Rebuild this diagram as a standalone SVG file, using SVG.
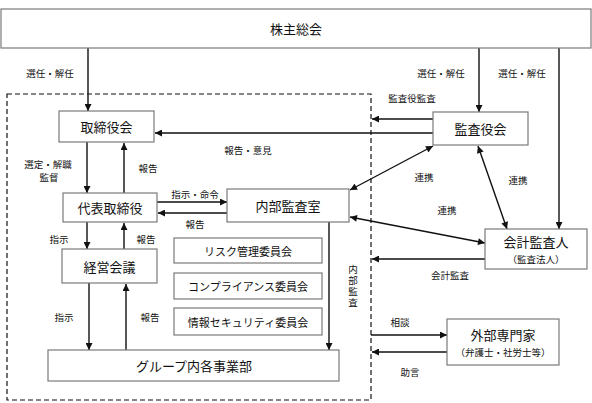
<svg xmlns="http://www.w3.org/2000/svg" width="592" height="403" viewBox="0 0 592 403">
<defs>
<marker id="ah" viewBox="0 0 10 10" refX="10" refY="5" markerWidth="8" markerHeight="7" orient="auto-start-reverse" markerUnits="userSpaceOnUse"><path d="M0,0 L10,5 L0,10 z" fill="#111"/></marker>
<style>
.box{fill:#fff;stroke:#7a7a7a;stroke-width:1.2}
.t{font-family:"Noto Sans CJK JP",sans-serif;fill:#111;text-anchor:middle;dominant-baseline:central}
.big{font-size:13px}
.mid{font-size:11px}
.sm{font-size:9.5px}
.c{fill:none;stroke:#111;stroke-width:1.4;marker-end:url(#ah)}
.d{marker-start:url(#ah)}
</style>
</defs>
<rect width="592" height="403" fill="#fff"/>
<rect x="7" y="94" width="364" height="306" fill="none" stroke="#111" stroke-width="1.2" stroke-dasharray="5,3"/>

<g id="connectors">
<path class="c" d="M88,48 V111"/>
<path class="c" d="M479,48 V112"/>
<path class="c" d="M559,48 V229"/>
<path class="c" d="M433,119 H372"/>
<path class="c" d="M433,133 H155"/>
<path class="c" d="M87,142 V193"/>
<path class="c" d="M124,193 V143"/>
<path class="c" d="M157,202 H227"/>
<path class="c" d="M227,213 H158"/>
<path class="c" d="M87,222 V249"/>
<path class="c" d="M124,249 V223"/>
<path class="c" d="M89,283 V350"/>
<path class="c" d="M126,350 V284"/>
<path class="c" d="M329,222 V350"/>
<path class="c d" d="M433,146 L350,190"/>
<path class="c d" d="M478,146 L507,229"/>
<path class="c d" d="M350,217 L485,243"/>
<path class="c" d="M485,259 H372"/>
<path class="c" d="M371,335 H447"/>
<path class="c" d="M447,352 H372"/>
</g>

<g id="labels">
<text class="t sm" x="50" y="73">選任・解任</text>
<text class="t sm" x="441" y="73">選任・解任</text>
<text class="t sm" x="522" y="73">選任・解任</text>
<text class="t sm" x="412" y="98">監査役監査</text>
<text class="t sm" x="248" y="150">報告・意見</text>
<text class="t sm" x="48" y="164">選定・解職</text>
<text class="t sm" x="49" y="177">監督</text>
<text class="t sm" x="148" y="168">報告</text>
<text class="t sm" x="195" y="194">指示・命令</text>
<text class="t sm" x="195" y="224">報告</text>
<text class="t sm" x="59" y="239">指示</text>
<text class="t sm" x="146" y="239">報告</text>
<text class="t sm" x="64" y="317">指示</text>
<text class="t sm" x="150" y="317">報告</text>
<text class="t sm" x="424" y="177">連携</text>
<text class="t sm" x="518" y="180">連携</text>
<text class="t sm" x="447" y="210">連携</text>
<text class="t sm" x="450" y="275">会計監査</text>
<text class="t sm" x="400" y="322">相談</text>
<text class="t sm" x="410" y="372">助言</text>
<text x="353" y="265" writing-mode="vertical-rl" font-family="Noto Sans CJK JP, sans-serif" font-size="9.5" letter-spacing="1.5" fill="#111">内部監査</text>
</g>

<g id="n-shareholders"><rect class="box" x="1" y="9" width="590" height="39"/><text class="t big" x="296" y="28.5">株主総会</text></g>
<g id="n-board"><rect class="box" x="59" y="111" width="95" height="31"/><text class="t big" x="106.5" y="126.5">取締役会</text></g>
<g id="n-rep"><rect class="box" x="63" y="193" width="94" height="29"/><text class="t big" x="110" y="207.5">代表取締役</text></g>
<g id="n-mgmt"><rect class="box" x="62" y="249" width="95" height="34"/><text class="t big" x="109.5" y="266">経営会議</text></g>
<g id="n-group"><rect class="box" x="48" y="350" width="291" height="31"/><text class="t big" x="194" y="365.5">グループ内各事業部</text></g>
<g id="n-internal"><rect class="box" x="227" y="189" width="122" height="33"/><text class="t big" x="288" y="205.5">内部監査室</text></g>
<g id="n-risk"><rect class="box" x="174" y="238" width="148" height="25"/><text class="t mid" x="248" y="250.5">リスク管理委員会</text></g>
<g id="n-comp"><rect class="box" x="174" y="273" width="148" height="26"/><text class="t mid" x="248" y="286">コンプライアンス委員会</text></g>
<g id="n-info"><rect class="box" x="174" y="308" width="148" height="27"/><text class="t mid" x="248" y="321.5">情報セキュリティ委員会</text></g>
<g id="n-auditors"><rect class="box" x="433" y="112" width="95" height="33"/><text class="t big" x="480.5" y="128.5">監査役会</text></g>
<g id="n-accounting"><rect class="box" x="485" y="229" width="102" height="40"/><text class="t big" x="536" y="241.5">会計監査人</text><text class="t sm" x="536" y="258.5">（監査法人）</text></g>
<g id="n-experts"><rect class="box" x="447" y="319" width="112" height="46"/><text class="t big" x="503" y="334.5">外部専門家</text><text class="t sm" x="503" y="351.5">（弁護士・社労士等）</text></g>
</svg>
